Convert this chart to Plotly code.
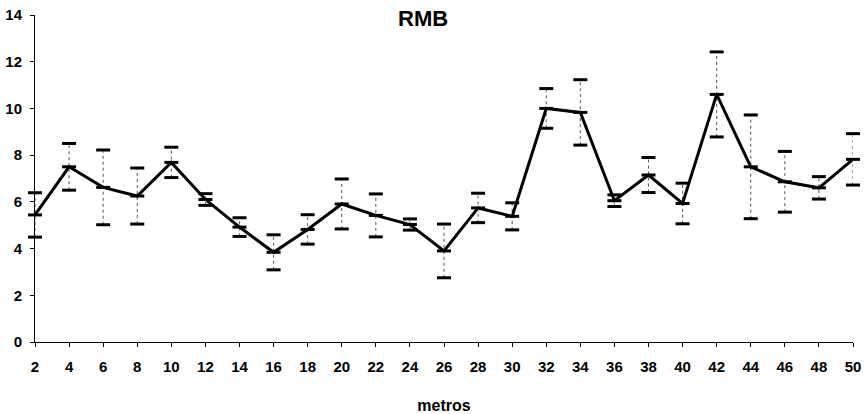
import plotly.graph_objects as go

metros = [2, 4, 6, 8, 10, 12, 14, 16, 18, 20, 22, 24, 26, 28, 30, 32, 34, 36, 38, 40, 42, 44, 46, 48, 50]
rmb = [5.44, 7.5, 6.62, 6.25, 7.69, 6.1, 4.92, 3.84, 4.82, 5.91, 5.42, 5.03, 3.9, 5.74, 5.38, 10.0, 9.83, 6.05, 7.15, 5.93, 10.6, 7.5, 6.86, 6.6, 7.82]
err = [0.95, 1.0, 1.6, 1.2, 0.65, 0.25, 0.4, 0.75, 0.63, 1.07, 0.92, 0.24, 1.15, 0.63, 0.58, 0.85, 1.4, 0.25, 0.75, 0.87, 1.82, 2.22, 1.3, 0.48, 1.1]
y_ticks = [0, 2, 4, 6, 8, 10, 12, 14]

upper = [m + e for m, e in zip(rmb, err)]
lower = [m - e for m, e in zip(rmb, err)]

# dotted stems
sx, sy = [], []
for x, lo, hi in zip(metros, lower, upper):
    sx += [x, x, None]
    sy += [lo, hi, None]

cap = dict(symbol="line-ew-open", size=10, color="black",
           line=dict(color="black", width=3))

fig = go.Figure()
fig.add_trace(go.Scatter(x=sx, y=sy, mode="lines",
                         line=dict(color="#555555", width=1, dash="dot"),
                         hoverinfo="skip", showlegend=False, cliponaxis=False))
fig.add_trace(go.Scatter(x=metros + metros, y=upper + lower, mode="markers",
                         marker=cap, showlegend=False, cliponaxis=False))
fig.add_trace(go.Scatter(x=metros, y=rmb, mode="lines+markers",
                         line=dict(color="black", width=3),
                         marker=cap, showlegend=False, cliponaxis=False))

fig.update_layout(
    width=867, height=414,
    margin=dict(l=35, r=14, t=15, b=72, autoexpand=False),
    paper_bgcolor="white", plot_bgcolor="white",
    font=dict(family="Liberation Sans, Arial, sans-serif", color="black", size=15),
    title=dict(text="<b>RMB</b>", x=0.488, xanchor="center", y=0.9565, yanchor="middle",
               font=dict(size=22, color="black")),
    xaxis=dict(range=[2, 50], tickmode="array", tickvals=metros,
               ticktext=[f"<b>{v}</b>" for v in metros],
               showgrid=False, zeroline=False, showline=True, linecolor="black", linewidth=1,
               ticks="outside", ticklen=4, tickcolor="black", ticklabelstandoff=7,
               ticklabeloverflow="allow", automargin=False,
               title=dict(text="<b>metros</b>", font=dict(size=16), standoff=28)),
    yaxis=dict(range=[0, 14], tickmode="array", tickvals=y_ticks,
               ticktext=[f"<b>{v}</b>" for v in y_ticks],
               showgrid=False, zeroline=False, showline=True, linecolor="black", linewidth=1,
               ticks="outside", ticklen=4, tickcolor="black", ticklabelstandoff=5,
               ticklabeloverflow="allow", automargin=False),
)

fig.write_html("out.html", config={"displayModeBar": False},
               post_script="document.body.style.margin='0';document.body.style.overflow='hidden';")
